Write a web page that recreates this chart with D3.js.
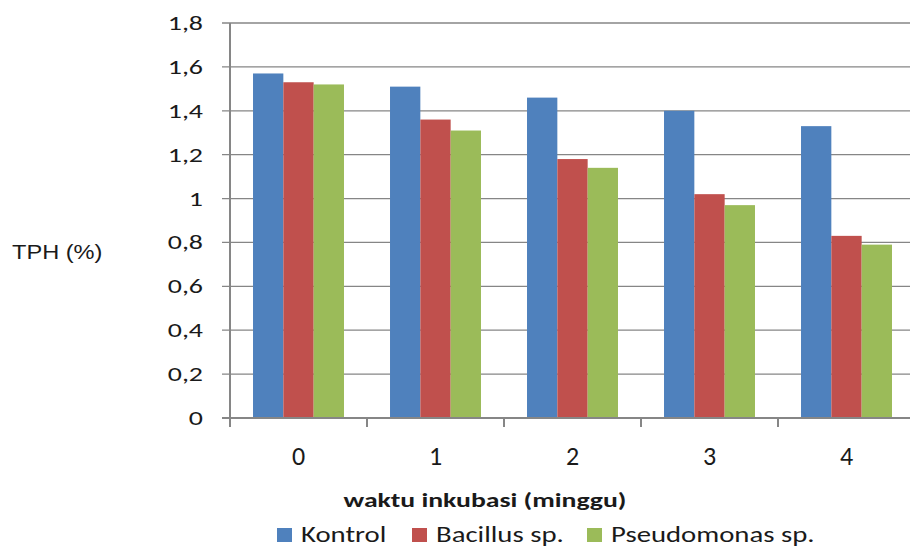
<!DOCTYPE html>
<html>
<head>
<meta charset="utf-8">
<script src="https://cdn.jsdelivr.net/npm/d3@7"></script>
<style>
  html, body { margin: 0; padding: 0; background: #fff; }
  svg { display: block; }
</style>
</head>
<body>
<svg id="chart" width="910" height="547"></svg>
<script>
// Incubation weeks and TPH values (%) per treatment
const weeks = ["0", "1", "2", "3", "4"];
const seriesNames = ["Kontrol", "Bacillus sp.", "Pseudomonas sp."];
const kontrol = [1.57, 1.51, 1.46, 1.40, 1.33];
const bacillus = [1.53, 1.36, 1.18, 1.02, 0.83];
const pseudomonas = [1.52, 1.31, 1.14, 0.97, 0.79];
const yTicks = [0, 0.2, 0.4, 0.6, 0.8, 1, 1.2, 1.4, 1.6, 1.8];
const colors = ["#4f81bd", "#c0504d", "#9bbb59"];

const seriesValues = [kontrol, bacillus, pseudomonas];
const svg = d3.select("#chart");

const plotLeft = 230, plotRight = 915, plotTop = 23, plotBottom = 418;
const labelFont = "Carlito, 'Open Sans', 'Liberation Sans', sans-serif";
const textColor = "#1a1a1a";

const x = d3.scaleBand().domain(weeks).range([plotLeft, plotRight]).paddingInner(0.336).paddingOuter(0.168);
const xs = d3.scaleBand().domain(seriesNames).range([0, x.bandwidth()]);
const y = d3.scaleLinear().domain([0, 1.8]).range([plotBottom, plotTop]);
const fmt = v => String(v).replace(".", ",");

// Text helper: places a label with a horizontal stretch factor
function label(sel, opts) {
  return sel
    .attr("transform", d => `translate(${opts.x(d)},${opts.y(d)}) scale(${opts.sx || 1},1)`)
    .attr("text-anchor", opts.anchor || "start")
    .attr("font-family", opts.family || labelFont)
    .attr("font-size", opts.size)
    .attr("font-weight", opts.weight || "normal")
    .attr("fill", textColor);
}

// Horizontal gridlines with short outer ticks
svg.append("g")
  .selectAll("line")
  .data(yTicks)
  .join("line")
  .attr("x1", plotLeft - 8).attr("x2", 910)
  .attr("y1", d => y(d)).attr("y2", d => y(d))
  .attr("stroke", "#868686").attr("stroke-width", 1.3);

// Y tick labels
label(svg.append("g").selectAll("text").data(yTicks).join("text"),
  { x: () => 203, y: d => y(d) + 7, sx: 1.33, size: 21, anchor: "end" })
  .text(fmt);

// Bars
const groups = svg.append("g")
  .selectAll("g")
  .data(weeks)
  .join("g")
  .attr("transform", d => `translate(${x(d)},0)`);

groups.selectAll("rect")
  .data((w, i) => seriesNames.map((s, k) => ({ s, k, v: seriesValues[k][i] })))
  .join("rect")
  .attr("x", d => xs(d.s))
  .attr("width", xs.bandwidth())
  .attr("y", d => y(d.v))
  .attr("height", d => y(0) - y(d.v))
  .attr("fill", d => colors[d.k]);

// Axis lines
svg.append("line")
  .attr("x1", plotLeft).attr("x2", plotLeft)
  .attr("y1", plotTop).attr("y2", plotBottom + 8)
  .attr("stroke", "#868686").attr("stroke-width", 2);
svg.append("line")
  .attr("x1", plotLeft - 8).attr("x2", 910)
  .attr("y1", plotBottom).attr("y2", plotBottom)
  .attr("stroke", "#868686").attr("stroke-width", 2);

// Category boundary ticks
const step = x.step();
svg.append("g")
  .selectAll("line")
  .data(d3.range(weeks.length + 1))
  .join("line")
  .attr("x1", i => plotLeft + i * step).attr("x2", i => plotLeft + i * step)
  .attr("y1", plotBottom).attr("y2", plotBottom + 9)
  .attr("stroke", "#868686").attr("stroke-width", 2);

// X tick labels
label(svg.append("g").selectAll("text").data(weeks).join("text"),
  { x: d => x(d) + x.bandwidth() / 2, y: () => 465, sx: 1.0, size: 26, anchor: "middle" })
  .text(d => d);

// Axis titles
label(svg.append("text").datum("waktu inkubasi (minggu)"),
  { x: () => 485, y: () => 507, sx: 1.32, size: 21, weight: "bold", anchor: "middle" })
  .text(d => d);

label(svg.append("text").datum("TPH (%)"),
  { x: () => 12, y: () => 259, sx: 1.18, size: 20, family: "'Liberation Sans', Arial, sans-serif" })
  .text(d => d);

// Legend
const legendX = [277, 412, 587];
const legend = svg.append("g")
  .selectAll("g")
  .data(seriesNames)
  .join("g")
  .attr("transform", (d, i) => `translate(${legendX[i]},0)`);
legend.append("rect")
  .attr("x", 0).attr("y", 528).attr("width", 15).attr("height", 14)
  .attr("fill", (d, i) => colors[i]);
label(legend.append("text"),
  { x: () => 24, y: () => 542, sx: 1.25, size: 23 })
  .text(d => d);
</script>
</body>
</html>
